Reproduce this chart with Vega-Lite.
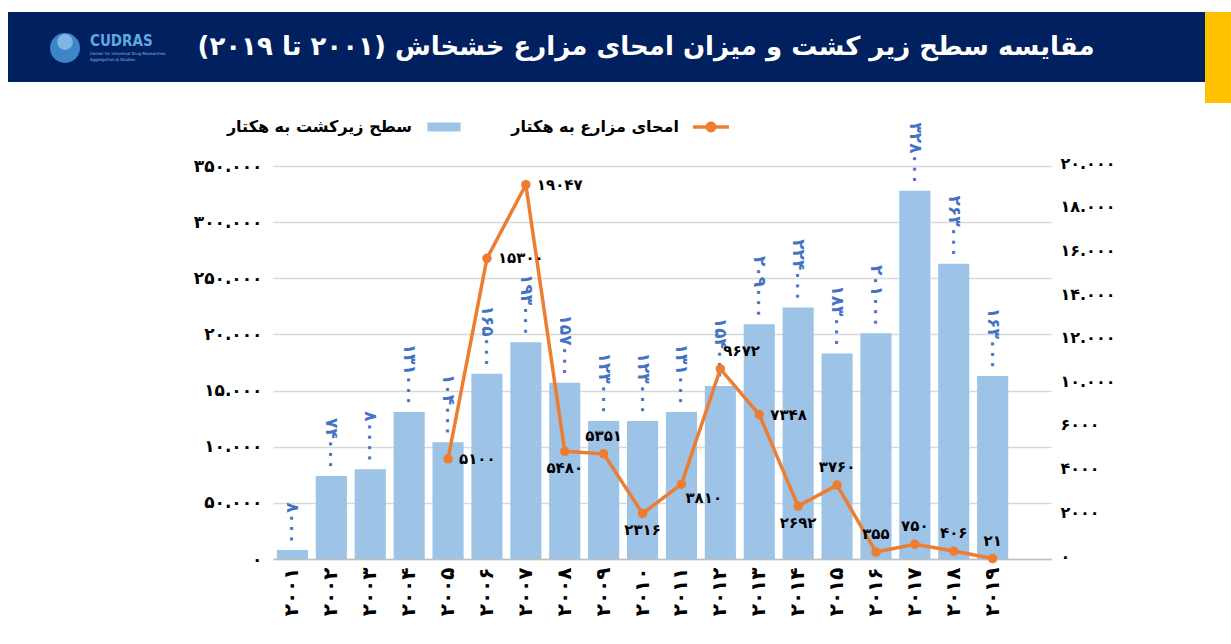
{
  "$schema": "https://vega.github.io/schema/vega-lite/v6.json",
  "padding": {"left": 8, "top": 12, "right": 0, "bottom": 0},
  "background": "white",
  "config": {"view": {"stroke": null}, "font": "DejaVu Sans"},
  "columns": 1,
  "align": "none",
  "spacing": 6,
  "resolve": {"legend": {"color": "independent"}},
  "concat": [
    {
      "spacing": 0,
      "hconcat": [
        {
          "width": 1197,
          "height": 70,
          "view": {"fill": "#002060", "stroke": null},
          "data": {"values": [{"title": "\u200Fمقایسه سطح زیر کشت و میزان امحای مزارع خشخاش (۲۰۰۱ تا ۲۰۱۹)\u200F", "logo": "CUDRAS", "sub1": "Center for Universal Drug Researches", "sub2": "Aggregation & Studies"}]},
          "layer": [
            {"mark": {"type": "text", "x": 638, "y": 35, "align": "center", "baseline": "middle", "fontSize": 26, "fontWeight": "bold", "color": "white", "font": "DejaVu Sans"}, "encoding": {"text": {"field": "title"}}},
            {"mark": {"type": "point", "x": 57, "y": 36, "size": 900, "filled": true, "color": "#3d85c6", "opacity": 1}, "encoding": {}},
            {"mark": {"type": "point", "x": 57, "y": 30, "size": 250, "filled": true, "color": "#8fc3ee", "opacity": 0.8}, "encoding": {}},
            {"mark": {"type": "text", "x": 82, "y": 29, "align": "left", "baseline": "middle", "fontSize": 15, "fontWeight": "bold", "color": "#5fa8e0", "font": "DejaVu Sans Condensed"}, "encoding": {"text": {"field": "logo"}}},
            {"mark": {"type": "text", "x": 82, "y": 42, "align": "left", "baseline": "middle", "fontSize": 4, "color": "#8fbce6"}, "encoding": {"text": {"field": "sub1"}}},
            {"mark": {"type": "text", "x": 82, "y": 48, "align": "left", "baseline": "middle", "fontSize": 4, "color": "#8fbce6"}, "encoding": {"text": {"field": "sub2"}}}
          ]
        },
        {
          "width": 26,
          "height": 91,
          "view": {"fill": "#FFC000", "stroke": null},
          "data": {"values": [{"t": ""}]},
          "mark": {"type": "text"},
          "encoding": {"text": {"field": "t"}}
        }
      ]
    },
    {
      "width": 1043,
      "height": 393,
      "data": {"values": [
        {"year": "۲۰۰۱", "area": 8000, "areaLabel": "۸۰۰۰", "erad": null, "eradLabel": null},
        {"year": "۲۰۰۲", "area": 74000, "areaLabel": "۷۴۰۰۰", "erad": null, "eradLabel": null},
        {"year": "۲۰۰۳", "area": 80000, "areaLabel": "۸۰۰۰۰", "erad": null, "eradLabel": null},
        {"year": "۲۰۰۴", "area": 131000, "areaLabel": "۱۳۱۰۰۰", "erad": null, "eradLabel": null},
        {"year": "۲۰۰۵", "area": 104000, "areaLabel": "۱۰۴۰۰۰", "erad": 5100, "eradLabel": "۵۱۰۰"},
        {"year": "۲۰۰۶", "area": 165000, "areaLabel": "۱۶۵۰۰۰", "erad": 15300, "eradLabel": "۱۵۳۰۰"},
        {"year": "۲۰۰۷", "area": 193000, "areaLabel": "۱۹۳۰۰۰", "erad": 19047, "eradLabel": "۱۹۰۴۷"},
        {"year": "۲۰۰۸", "area": 157000, "areaLabel": "۱۵۷۰۰۰", "erad": 5480, "eradLabel": "۵۴۸۰"},
        {"year": "۲۰۰۹", "area": 123000, "areaLabel": "۱۲۳۰۰۰", "erad": 5351, "eradLabel": "۵۳۵۱"},
        {"year": "۲۰۱۰", "area": 123000, "areaLabel": "۱۲۳۰۰۰", "erad": 2316, "eradLabel": "۲۳۱۶"},
        {"year": "۲۰۱۱", "area": 131000, "areaLabel": "۱۳۱۰۰۰", "erad": 3810, "eradLabel": "۳۸۱۰"},
        {"year": "۲۰۱۲", "area": 154000, "areaLabel": "۱۵۴۰۰۰", "erad": 9672, "eradLabel": "۹۶۷۲"},
        {"year": "۲۰۱۳", "area": 209000, "areaLabel": "۲۰۹۰۰۰", "erad": 7348, "eradLabel": "۷۳۴۸"},
        {"year": "۲۰۱۴", "area": 224000, "areaLabel": "۲۲۴۰۰۰", "erad": 2692, "eradLabel": "۲۶۹۲"},
        {"year": "۲۰۱۵", "area": 183000, "areaLabel": "۱۸۳۰۰۰", "erad": 3760, "eradLabel": "۳۷۶۰"},
        {"year": "۲۰۱۶", "area": 201000, "areaLabel": "۲۰۱۰۰۰", "erad": 355, "eradLabel": "۳۵۵"},
        {"year": "۲۰۱۷", "area": 328000, "areaLabel": "۳۲۸۰۰۰", "erad": 750, "eradLabel": "۷۵۰"},
        {"year": "۲۰۱۸", "area": 263000, "areaLabel": "۲۶۳۰۰۰", "erad": 406, "eradLabel": "۴۰۶"},
        {"year": "۲۰۱۹", "area": 163000, "areaLabel": "۱۶۳۰۰۰", "erad": 21, "eradLabel": "۲۱"}
      ]},
      "encoding": {
        "x": {
          "field": "year", "type": "nominal", "sort": null,
          "scale": {"domain": ["۲۰۰۱","۲۰۰۲","۲۰۰۳","۲۰۰۴","۲۰۰۵","۲۰۰۶","۲۰۰۷","۲۰۰۸","۲۰۰۹","۲۰۱۰","۲۰۱۱","۲۰۱۲","۲۰۱۳","۲۰۱۴","۲۰۱۵","۲۰۱۶","۲۰۱۷","۲۰۱۸","۲۰۱۹",""], "range": [265, 1043], "paddingInner": 0.2, "paddingOuter": 0.1},
          "axis": {"title": null, "ticks": false, "labelAngle": -90, "labelPadding": 8, "labelFontSize": 20, "labelFontWeight": "bold", "labelColor": "black", "labelFont": "DejaVu Sans", "domainColor": "#bfbfbf", "domainWidth": 1.5}
        }
      },
      "layer": [
        {
          "encoding": {
            "y": {"field": "area", "type": "quantitative", "scale": {"domain": [0, 350000], "nice": false},
              "axis": {"orient": "left", "title": null, "values": [0, 50000, 100000, 150000, 200000, 250000, 300000, 350000],
                "labelExpr": "['۰','۵۰.۰۰۰','۱۰.۰۰۰','۱۵.۰۰۰','۲۰.۰۰۰','۲۵۰.۰۰۰','۳۰۰.۰۰۰','۳۵۰.۰۰۰'][round(datum.value/50000)]",
                "grid": true, "gridColor": "#d9d9d9", "gridWidth": 1.5, "domain": false, "ticks": false, "labelPadding": 11, "offset": -265,
                "labelFontSize": 17, "labelFontWeight": "bold", "labelColor": "black", "labelFont": "DejaVu Sans"}}
          },
          "layer": [
            {
              "mark": {"type": "bar"},
              "encoding": {
                "color": {"datum": "سطح زیرکشت به هکتار", "type": "nominal",
                  "scale": {"domain": ["سطح زیرکشت به هکتار", "امحای مزارع به هکتار"], "range": ["#9DC3E6", "#ED7D31"]},
                  "legend": {"orient": "none", "legendX": 418, "legendY": -57, "direction": "horizontal", "title": null,
                    "labelFont": "DejaVu Sans", "labelFontWeight": "bold", "labelFontSize": 16, "labelColor": "black", "labelLimit": 400,
                    "labelAlign": "right", "labelOffset": -50, "symbolSize": 1296, "columnPadding": 50, "symbolStrokeWidth": 0,
                    "encode": {"symbols": {"update": {
                      "shape": {"signal": "datum.value === 'امحای مزارع به هکتار' ? 'M-1,-0.1L1,-0.1L1,0.1L-1,0.1Z M-0.3,0A0.3,0.3 0 1,1 0.3,0A0.3,0.3 0 1,1 -0.3,0Z' : 'M-0.92,-0.25L0.92,-0.25L0.92,0.25L-0.92,0.25Z'"},
                      "fill": {"signal": "datum.value === 'امحای مزارع به هکتار' ? '#ED7D31' : '#9DC3E6'"},
                      "strokeWidth": {"value": 0}
                    }}}}
                }
              }
            },
            {
              "mark": {"type": "text", "angle": 90, "align": "right", "baseline": "middle", "dx": -6, "fontSize": 17, "fontWeight": "bold", "color": "#4472C4", "font": "DejaVu Sans"},
              "encoding": {"text": {"field": "areaLabel"}}
            }
          ]
        },
        {
          "encoding": {
            "y": {"field": "erad", "type": "quantitative", "scale": {"domain": [0, 20000], "nice": false},
              "axis": {"orient": "right", "title": null, "values": [0, 2222.22, 4444.44, 6666.67, 8888.89, 11111.11, 13333.33, 15555.56, 17777.78, 20000],
                "labelExpr": "['۰','۲۰۰۰','۴۰۰۰','۶۰۰۰','۱۰.۰۰۰','۱۲.۰۰۰','۱۴.۰۰۰','۱۶.۰۰۰','۱۸.۰۰۰','۲۰.۰۰۰'][round(datum.value*9/20000)]",
                "grid": false, "domain": false, "ticks": false, "labelPadding": 9, "labelOffset": -3,
                "labelFontSize": 16, "labelFontWeight": "bold", "labelColor": "black", "labelFont": "DejaVu Sans"}}
          },
          "layer": [
            {
              "mark": {"type": "line", "strokeWidth": 3.5, "point": {"filled": true, "size": 90}},
              "encoding": {"color": {"datum": "امحای مزارع به هکتار", "type": "nominal"}}
            },
            {
              "transform": [{"filter": {"field": "year", "oneOf": ["۲۰۰۵","۲۰۰۶","۲۰۰۷","۲۰۱۳"]}}],
              "mark": {"type": "text", "align": "left", "baseline": "middle", "dx": 11, "fontSize": 15, "fontWeight": "bold", "color": "black"},
              "encoding": {"text": {"field": "eradLabel"}}
            },
            {
              "transform": [{"filter": {"field": "year", "oneOf": ["۲۰۰۸","۲۰۱۰","۲۰۱۴"]}}],
              "mark": {"type": "text", "align": "center", "baseline": "middle", "dy": 17, "fontSize": 15, "fontWeight": "bold", "color": "black"},
              "encoding": {"text": {"field": "eradLabel"}}
            },
            {
              "transform": [{"filter": {"field": "year", "oneOf": ["۲۰۱۱"]}}],
              "mark": {"type": "text", "align": "left", "baseline": "middle", "dx": 4, "dy": 14, "fontSize": 15, "fontWeight": "bold", "color": "black"},
              "encoding": {"text": {"field": "eradLabel"}}
            },
            {
              "transform": [{"filter": {"field": "year", "oneOf": ["۲۰۰۹","۲۰۱۵","۲۰۱۶","۲۰۱۷","۲۰۱۸","۲۰۱۹"]}}],
              "mark": {"type": "text", "align": "center", "baseline": "middle", "dy": -18, "fontSize": 15, "fontWeight": "bold", "color": "black"},
              "encoding": {"text": {"field": "eradLabel"}}
            },
            {
              "transform": [{"filter": {"field": "year", "oneOf": ["۲۰۱۲"]}}],
              "mark": {"type": "text", "align": "left", "baseline": "middle", "dx": 3, "dy": -18, "fontSize": 15, "fontWeight": "bold", "color": "black"},
              "encoding": {"text": {"field": "eradLabel"}}
            }
          ]
        }
      ],
      "resolve": {"scale": {"y": "independent"}}
    }
  ]
}
